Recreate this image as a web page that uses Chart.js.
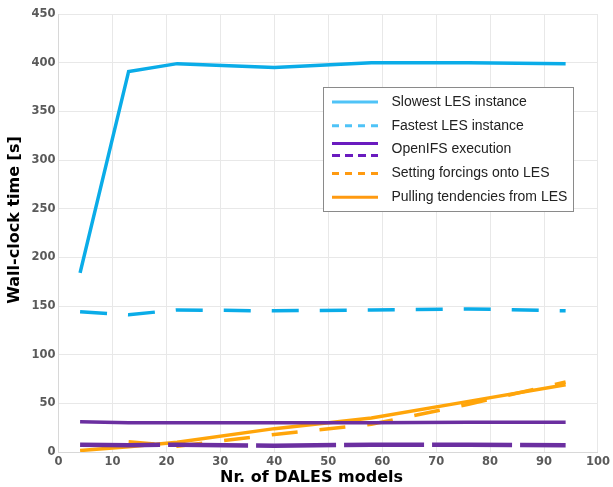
<!DOCTYPE html>
<html>
<head>
<meta charset="utf-8">
<script src="https://cdn.jsdelivr.net/npm/chart.js@4.4.1/dist/chart.umd.min.js"></script>
<style>
html,body{margin:0;padding:0;background:#fff;}
#wrap{width:613px;height:487px;position:relative;}
</style>
</head>
<body>
<div id="wrap"><canvas id="c"></canvas></div>
<script>
// Number of DALES models (x positions)
const models = [4, 13, 22, 40, 58, 76, 94];
// Wall-clock times [s]
const slowestLES   = [184, 391, 399, 395, 400, 400, 399];
const fastestLES   = [144, 141, 146, 145, 146, 147, 145];
const openIFSsolid = [31, 30, 30, 30, 30, 30.5, 30.5];
const openIFSdash  = [7.5, 7, 7.5, 6.5, 7.5, 7.5, 7];
const settingForc  = [null, 10.5, 6, 18, 28.5, 49, 72];
const pullingTend  = [1.5, 5.5, 10, 24, 35, 52, 69];
const yTicks = [0, 50, 100, 150, 200, 250, 300, 350, 400, 450];
const xTicks = [0, 10, 20, 30, 40, 50, 60, 70, 80, 90, 100];
const xTitle = 'Nr. of DALES models';
const yTitle = 'Wall-clock time [s]';

const legendItems = [
  {label: 'Slowest LES instance', lines: [{color: '#4fc3f7', dash: []}]},
  {label: 'Fastest LES instance', lines: [{color: '#4fc3f7', dash: [7, 6]}]},
  {label: 'OpenIFS execution', lines: [{color: '#6a1bbf', dash: [], off: -6}, {color: '#6a1bbf', dash: [8, 5], off: 6}]},
  {label: 'Setting forcings onto LES', lines: [{color: '#ff9a10', dash: [7, 6]}]},
  {label: 'Pulling tendencies from LES', lines: [{color: '#ff9a10', dash: []}]}
];

function pts(ys) { return models.map((x, i) => ({x: x, y: ys[i]})); }

const BLUE = '#0aace8', PURPLE = '#6b2fa0', ORANGE = '#ffa50a';

const customLegend = {
  id: 'customLegend',
  afterDraw(chart) {
    const ctx = chart.ctx;
    ctx.save();
    // axis titles
    ctx.fillStyle = '#000';
    ctx.font = 'bold 16px "DejaVu Sans"';
    ctx.textAlign = 'center';
    ctx.textBaseline = 'middle';
    ctx.fillText(xTitle, 311.5, 478);
    ctx.save();
    ctx.translate(15, 220);
    ctx.rotate(-Math.PI / 2);
    ctx.fillText(yTitle, 0, 0);
    ctx.restore();
    // legend box
    const bx = 323.5, by = 87.5, bw = 250, bh = 124;
    ctx.fillStyle = '#ffffff';
    ctx.fillRect(bx, by, bw, bh);
    ctx.strokeStyle = '#8a8a8a';
    ctx.lineWidth = 1;
    ctx.strokeRect(bx, by, bw, bh);
    const rowH = 23.8;
    legendItems.forEach((it, i) => {
      const cy = 102 + i * rowH;
      it.lines.forEach(l => {
        ctx.beginPath();
        ctx.setLineDash(l.dash);
        ctx.lineWidth = 3;
        ctx.strokeStyle = l.color;
        const yy = cy + (l.off || 0);
        ctx.moveTo(332, yy);
        ctx.lineTo(378, yy);
        ctx.stroke();
      });
      ctx.setLineDash([]);
      ctx.fillStyle = '#222';
      ctx.font = '14px "Liberation Sans", Arial, sans-serif';
      ctx.textBaseline = 'middle';
      ctx.textAlign = 'left';
      ctx.fillText(it.label, 391.5, cy);
    });
    ctx.restore();
  }
};

new Chart(document.getElementById('c'), {
  type: 'line',
  data: {
    datasets: [
      {label: 'Slowest LES instance', data: pts(slowestLES), borderColor: BLUE, borderWidth: 3.5},
      {label: 'Fastest LES instance', data: pts(fastestLES), borderColor: BLUE, borderWidth: 3.5, borderDash: [27, 21]},
      {label: 'OpenIFS execution', data: pts(openIFSsolid), borderColor: PURPLE, borderWidth: 3.5},
      {label: 'OpenIFS execution (dashed)', data: pts(openIFSdash), borderColor: PURPLE, borderWidth: 4.5, borderDash: [80, 8]},
      {label: 'Setting forcings onto LES', data: pts(settingForc), borderColor: ORANGE, borderWidth: 3.5, borderDash: [26, 22]},
      {label: 'Pulling tendencies from LES', data: pts(pullingTend), borderColor: ORANGE, borderWidth: 3.5}
    ]
  },
  options: {
    responsive: true,
    maintainAspectRatio: false,
    animation: false,
    layout: {padding: {top: 14, right: 13, left: 0, bottom: 0}},
    elements: {point: {radius: 0}, line: {tension: 0, fill: false}},
    plugins: {legend: {display: false}, tooltip: {enabled: false}},
    scales: {
      x: {
        type: 'linear', min: 0, max: 100,
        afterBuildTicks: s => { s.ticks = xTicks.map(v => ({value: v})); },
        afterFit: s => { s.height = 35; },
        grid: {color: '#e8e8e8', drawTicks: false, lineWidth: 1},
        border: {color: '#d8d8d8'},
        ticks: {padding: 3, color: '#5a5a5a', font: {family: '"DejaVu Sans"', weight: 'bold', size: 11.5}, maxRotation: 0},
        title: {display: false}
      },
      y: {
        type: 'linear', min: 0, max: 450,
        afterBuildTicks: s => { s.ticks = yTicks.map(v => ({value: v})); },
        afterFit: s => { s.width = 58.5; },
        grid: {color: '#e8e8e8', drawTicks: false, lineWidth: 1},
        border: {color: '#d8d8d8'},
        ticks: {padding: 3, color: '#5a5a5a', font: {family: '"DejaVu Sans"', weight: 'bold', size: 11.5}},
        title: {display: false}
      }
    }
  },
  plugins: [customLegend]
});
</script>
</body>
</html>
